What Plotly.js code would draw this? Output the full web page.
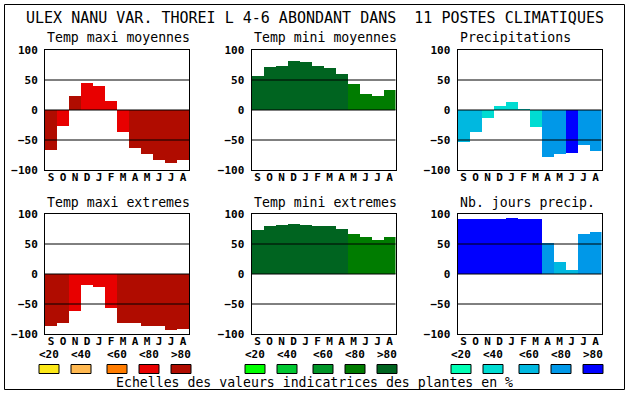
<!DOCTYPE html>
<html>
<head>
<meta charset="utf-8">
<script src="https://cdn.plot.ly/plotly-3.0.1.min.js"></script>
<style>html,body{margin:0;padding:0;background:#fff;}#chart{width:630px;height:394px;}</style>
</head>
<body>
<div id="chart"></div>
<script>
// ---- data ----
const months = ['S','O','N','D','J','F','M','A','M','J','J','A'];
const panelTitles = ['Temp maxi moyennes','Temp mini moyennes','Precipitations','Temp maxi extremes','Temp mini extremes','Nb. jours precip.'];
const tmaxMoy    = [-66,-26,23,45,40,15,-36,-64,-74,-84,-88,-84];
const tmaxMoyCls = [4,3,4,3,3,3,3,4,4,4,4,4];
const tminMoy    = [57,72,73,82,80,73,70,60,43,27,23,33];
const tminMoyCls = [4,4,4,4,4,4,4,4,3,3,3,3];
const precip     = [-54,-36,-13,6,13,2,-28,-78,-74,-71,-58,-68];
const precipCls  = [2,2,1,1,1,1,1,3,3,4,3,3];
const tmaxExt    = [-87,-82,-61,-18,-21,-56,-81,-82,-86,-87,-94,-91];
const tmaxExtCls = [4,4,3,3,3,3,4,4,4,4,4,4];
const tminExt    = [74,80,82,84,82,80,80,75,67,62,57,62];
const tminExtCls = [4,4,4,4,4,4,4,4,3,3,3,3];
const nbJours    = [92,92,92,92,94,92,92,52,20,7,67,70];
const nbJoursCls = [4,4,4,4,4,4,4,3,2,2,3,3];
const classLabels = ['&lt;20','&lt;40','&lt;60','&lt;80','&gt;80'];
const redPal   = ['#fce818','#ffb850','#ff7c00','#e80000','#b00c00'];
const greenPal = ['#00ff00','#00c832','#009628','#007c00','#006420'];
const bluePal  = ['#00ffb4','#00dcd2','#00b8e0','#0098e8','#0000ff'];
const yTicks = [-100,-50,0,50,100];
const gridVals = [-50,0,50];
const mainTitle = 'ULEX NANU VAR. THOREI L 4-6 ABONDANT DANS  11 POSTES CLIMATIQUES';
const footText = 'Echelles des valeurs indicatrices des plantes en %';

// ---- layout helpers ----
const W = 630, H = 394;
const px = x => x / W;
const py = y => 1 - y / H;
const FONT = 'DejaVu Sans Mono';
const cols = [[45,189],[251.5,395.5],[457.5,601.5]];
const rows = [[50,170],[214,334]];
const series = [
  [tmaxMoy, tmaxMoyCls, redPal],
  [tminMoy, tminMoyCls, greenPal],
  [precip, precipCls, bluePal],
  [tmaxExt, tmaxExtCls, redPal],
  [tminExt, tminExtCls, greenPal],
  [nbJours, nbJoursCls, bluePal]
];

const traces = [];
const layout = {
  width: W, height: H,
  margin: {l:0, r:0, t:0, b:0},
  paper_bgcolor: '#fff', plot_bgcolor: '#fff',
  showlegend: false, bargap: 0,
  font: {family: FONT, color: '#000'},
  shapes: [], annotations: []
};
const idx = months.map((m, i) => i);

series.forEach((s, k) => {
  const n = k + 1;
  const col = cols[k % 3], row = rows[Math.floor(k / 3)];
  const xa = 'xaxis' + n, ya = 'yaxis' + n;
  traces.push({
    type: 'bar', x: idx, y: s[0],
    marker: {color: s[1].map(c => s[2][c]), line: {width: 0}},
    xaxis: 'x' + n, yaxis: 'y' + n, hoverinfo: 'skip'
  });
  layout[xa] = {
    domain: [px(col[0]), px(col[1])], anchor: 'y' + n,
    range: [-0.5, 11.5], tickvals: idx, ticktext: months,
    showline: true, mirror: true, linecolor: '#000', linewidth: 1,
    showgrid: false, zeroline: false, ticks: '', fixedrange: true,
    tickfont: {family: FONT, size: 11, weight: 'bold', color: '#000'},
    ticklabelstandoff: -3
  };
  layout[ya] = {
    domain: [py(row[1]), py(row[0])], anchor: 'x' + n,
    range: [-100, 100], tickvals: yTicks,
    showline: true, mirror: true, linecolor: '#000', linewidth: 1,
    showgrid: false, zeroline: false, ticks: '', fixedrange: true,
    tickfont: {family: FONT, size: 11, weight: 'bold', color: '#000'},
    ticklabelstandoff: 4
  };
  gridVals.forEach(v => layout.shapes.push({
    type: 'line', xref: 'x' + n + ' domain', yref: 'y' + n,
    x0: 0, x1: 1, y0: v, y1: v, layer: 'above',
    line: {color: '#000', width: 1}
  }));
  layout.annotations.push({
    text: panelTitles[k], xref: 'paper', yref: 'paper',
    x: px(col[0]), y: py(row[0] - 12), xanchor: 'left', yanchor: 'middle',
    showarrow: false, font: {family: FONT, size: 13.2, color: '#000'}
  });
});

// legend scales
const palettes = [redPal, greenPal, bluePal];
const offs = [4, 36, 72, 104, 136];
cols.forEach((col, c) => {
  offs.forEach((o, j) => {
    const cx = col[0] + o - (c === 0 ? 0 : 0.5);
    layout.shapes.push({
      type: 'rect', xref: 'paper', yref: 'paper',
      x0: px(cx - 10), x1: px(cx + 10), y0: py(373.5), y1: py(364.5),
      fillcolor: palettes[c][j], line: {color: '#000', width: 1}, layer: 'above'
    });
    layout.annotations.push({
      text: classLabels[j], xref: 'paper', yref: 'paper',
      x: px(cx), y: py(354.5), xanchor: 'center', yanchor: 'middle',
      showarrow: false, font: {family: FONT, size: 11, weight: 'bold', color: '#000'}
    });
  });
});

layout.annotations.push({
  text: mainTitle, xref: 'paper', yref: 'paper',
  x: px(314.5), y: py(18), xanchor: 'center', yanchor: 'middle',
  showarrow: false, font: {family: FONT, size: 15, color: '#000'}
});
layout.annotations.push({
  text: footText, xref: 'paper', yref: 'paper',
  x: px(314.8), y: py(382), xanchor: 'center', yanchor: 'middle',
  showarrow: false, font: {family: FONT, size: 13.2, color: '#000'}
});
// outer frame
layout.shapes.push({
  type: 'rect', xref: 'paper', yref: 'paper',
  x0: px(4.5), x1: px(624.5), y0: py(389.5), y1: py(4.5),
  line: {color: '#000', width: 1}, fillcolor: 'rgba(0,0,0,0)', layer: 'above'
});

Plotly.newPlot('chart', traces, layout, {staticPlot: true, displayModeBar: false});
</script>
</body>
</html>
